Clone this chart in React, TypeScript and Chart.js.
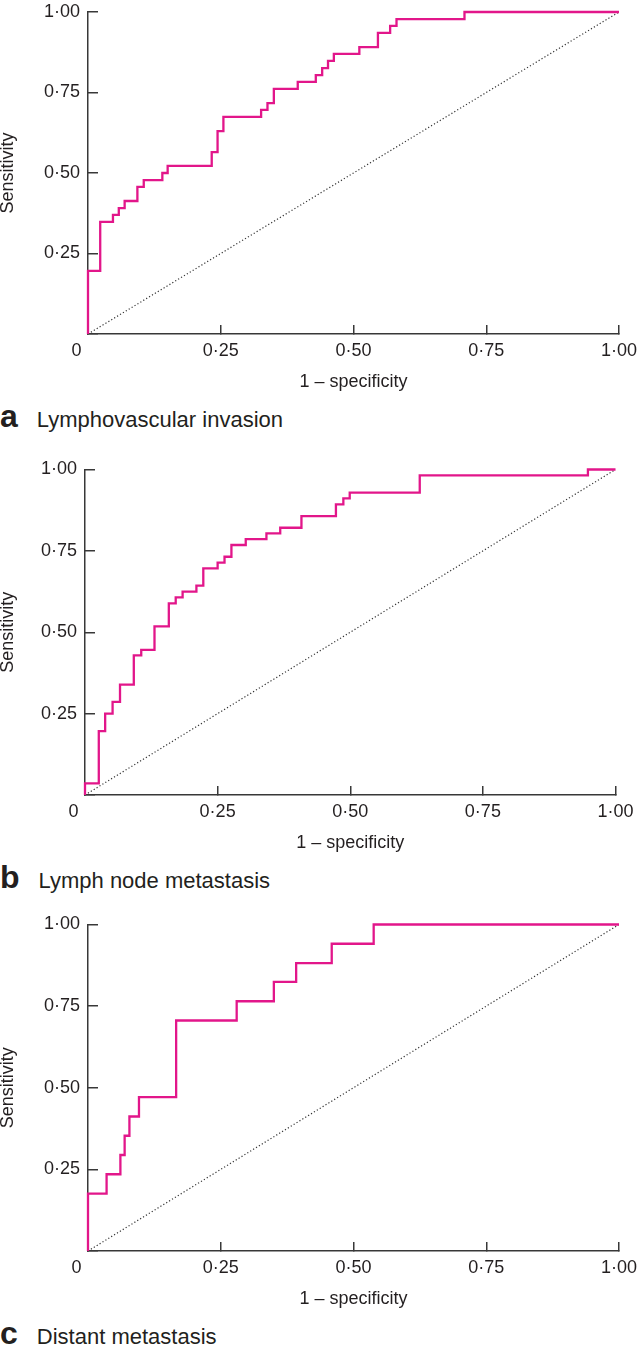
import React, { useEffect, useRef } from 'react';
import { Chart, registerables } from 'chart.js';

Chart.register(...registerables);

// ---------- data ----------
const xTicks = [0, 0.25, 0.5, 0.75, 1];
const yTicks = [0, 0.25, 0.5, 0.75, 1];
const chanceLine = [0, 1];

// a: Lymphovascular invasion
const fprA = [0, 0, 0.023, 0.047, 0.058, 0.069, 0.093, 0.105, 0.14, 0.15, 0.233, 0.244, 0.255, 0.326, 0.338, 0.35, 0.395, 0.429, 0.441, 0.452, 0.463, 0.511, 0.546, 0.569, 0.581, 0.709, 1];
const tprA = [0, 0.196, 0.348, 0.37, 0.391, 0.413, 0.457, 0.478, 0.5, 0.522, 0.565, 0.63, 0.674, 0.696, 0.717, 0.761, 0.783, 0.804, 0.826, 0.848, 0.87, 0.891, 0.935, 0.957, 0.978, 1, 1];

// b: Lymph node metastasis
const fprB = [0, 0, 0.026, 0.038, 0.052, 0.066, 0.092, 0.106, 0.131, 0.158, 0.171, 0.184, 0.21, 0.223, 0.25, 0.263, 0.276, 0.303, 0.342, 0.368, 0.408, 0.473, 0.487, 0.499, 0.631, 0.948, 1];
const tprB = [0, 0.036, 0.196, 0.25, 0.286, 0.339, 0.429, 0.446, 0.518, 0.589, 0.607, 0.625, 0.643, 0.696, 0.714, 0.732, 0.768, 0.786, 0.804, 0.821, 0.857, 0.893, 0.911, 0.929, 0.982, 1, 1];

// c: Distant metastasis
const fprC = [0, 0, 0.035, 0.061, 0.069, 0.078, 0.096, 0.166, 0.28, 0.35, 0.392, 0.459, 0.538, 1];
const tprC = [0, 0.176, 0.235, 0.294, 0.353, 0.412, 0.471, 0.706, 0.765, 0.824, 0.882, 0.941, 1, 1];

const panelLetters = ['a', 'b', 'c'];
const panelTitles = ['Lymphovascular invasion', 'Lymph node metastasis', 'Distant metastasis'];
const X_TITLE = '1 \u2013 specificity';
const Y_TITLE = 'Sensitivity';

// ---------- style / layout ----------
const FONT = "'Liberation Sans', Arial, Helvetica, sans-serif";
const TEXT = '#231f20';
const AXIS = '#383838';
const CURVE = '#e2168a';
const DOTS = '#333333';
const W = 638;
const X_AXIS_H = 57;

const GEOM = [
  { pageTop: 0, top: 12, bottom: 334, left: 88, right: 619, capBase: 427.3 },
  { pageTop: 445, top: 469.5, bottom: 795, left: 85, right: 615.5, capBase: 888 },
  { pageTop: 900, top: 924.5, bottom: 1251, left: 88, right: 619, capBase: 1344 },
];

const fmt = (v: number) => (v === 0 ? '0' : Number(v).toFixed(2).replace('.', '\u00B7'));

const zeroLabelShift = {
  id: 'zeroLabelShift',
  beforeDraw(chart: any) {
    const s = chart.scales.x;
    if (!s || !s.getLabelItems) return;
    const items = s.getLabelItems();
    for (const it of items) {
      if (it.label === '0') {
        it.options.textAlign = 'right';
        it.options.translation[0] = s.left - 6.5;
      }
    }
  },
};

function makeChart(canvas: HTMLCanvasElement, g: any, fpr: number[], tpr: number[]) {
  const H = Math.round(g.bottom - g.pageTop + 62);
  canvas.width = W;
  canvas.height = H;
  return new Chart(canvas, {
    type: 'line',
    data: {
      datasets: [
        {
          data: fpr.map((x, i) => ({ x, y: tpr[i] })),
          borderColor: CURVE,
          borderWidth: 2.3,
          stepped: 'before',
          pointRadius: 0,
          fill: false,
          clip: 4,
        } as any,
        {
          data: chanceLine.map((v) => ({ x: v, y: v })),
          borderColor: DOTS,
          borderWidth: 1.2,
          borderDash: [1.2, 2.2],
          pointRadius: 0,
          fill: false,
        },
      ],
    },
    options: {
      animation: false,
      responsive: false,
      maintainAspectRatio: false,
      events: [],
      layout: {
        padding: {
          left: 0,
          top: g.top - g.pageTop,
          right: W - g.right,
          bottom: H - (g.bottom - g.pageTop) - X_AXIS_H,
        },
      },
      plugins: {
        legend: { display: false },
        tooltip: { enabled: false },
        title: { display: false },
      },
      scales: {
        x: {
          type: 'linear',
          min: 0,
          max: 1,
          position: 'bottom',
          afterBuildTicks: (s: any) => {
            s.ticks = xTicks.map((v) => ({ value: v }));
          },
          afterFit: (s: any) => {
            s.height = X_AXIS_H;
            s.paddingLeft = 0;
            s.paddingRight = 0;
            s.paddingTop = 0;
            s.paddingBottom = 0;
          },
          grid: {
            display: true,
            drawOnChartArea: false,
            drawTicks: true,
            tickLength: -9,
            color: AXIS,
            lineWidth: 1.5,
          },
          border: { display: true, color: AXIS, width: 1.5 },
          ticks: {
            padding: 15,
            color: TEXT,
            font: { family: FONT, size: 18, lineHeight: 1.2 },
            maxRotation: 0,
            autoSkip: false,
            callback: (v: any) => fmt(Number(v)),
          },
          title: {
            display: true,
            text: X_TITLE,
            color: TEXT,
            font: { family: FONT, size: 18, lineHeight: 1 },
            padding: { top: 0, bottom: 0 },
          },
        },
        y: {
          type: 'linear',
          min: 0,
          max: 1,
          position: 'left',
          afterBuildTicks: (s: any) => {
            s.ticks = yTicks.map((v) => ({ value: v }));
          },
          afterFit: (s: any) => {
            s.width = g.left;
            s.paddingLeft = 0;
            s.paddingRight = 0;
            s.paddingTop = 0;
            s.paddingBottom = 0;
          },
          grid: {
            display: true,
            drawOnChartArea: false,
            drawTicks: true,
            tickLength: -10,
            color: AXIS,
            lineWidth: 1.5,
          },
          border: { display: true, color: AXIS, width: 1.5 },
          ticks: {
            padding: 18,
            color: TEXT,
            font: { family: FONT, size: 18, lineHeight: 1.2 },
            autoSkip: false,
            callback: (v: any) => (Number(v) === 0 ? '' : fmt(Number(v))),
          },
          title: {
            display: true,
            text: Y_TITLE,
            color: TEXT,
            font: { family: FONT, size: 18, lineHeight: 0.85 },
            padding: { top: 0, bottom: 0 },
          },
        },
      },
    } as any,
    plugins: [zeroLabelShift],
  });
}

export default function App() {
  const r0 = useRef<HTMLCanvasElement | null>(null);
  const r1 = useRef<HTMLCanvasElement | null>(null);
  const r2 = useRef<HTMLCanvasElement | null>(null);

  useEffect(() => {
    const series = [
      [fprA, tprA],
      [fprB, tprB],
      [fprC, tprC],
    ];
    const refs = [r0, r1, r2];
    const charts = refs.map((r, i) => makeChart(r.current as HTMLCanvasElement, GEOM[i], series[i][0], series[i][1]));
    return () => charts.forEach((c) => c.destroy());
  }, []);

  const refs = [r0, r1, r2];

  return (
    <div style={{ position: 'absolute', left: 0, top: 0, width: W, height: 1349, background: '#fff', overflow: 'hidden' }}>
      {GEOM.map((g, i) => (
        <canvas
          key={'c' + i}
          ref={refs[i]}
          style={{
            position: 'absolute',
            left: 0,
            top: g.pageTop,
            width: W,
            height: Math.round(g.bottom - g.pageTop + 62),
          }}
        />
      ))}
      {GEOM.map((g, i) => (
        <div
          key={'t' + i}
          style={{
            position: 'absolute',
            left: 0,
            top: g.capBase - 27.1,
            fontFamily: FONT,
            fontSize: 22,
            lineHeight: 1,
            color: TEXT,
            whiteSpace: 'nowrap',
          }}
        >
          <span style={{ fontSize: 32, fontWeight: 700 }}>{panelLetters[i]}</span>
          <span style={{ marginLeft: 19 }}>{panelTitles[i]}</span>
        </div>
      ))}
    </div>
  );
}
